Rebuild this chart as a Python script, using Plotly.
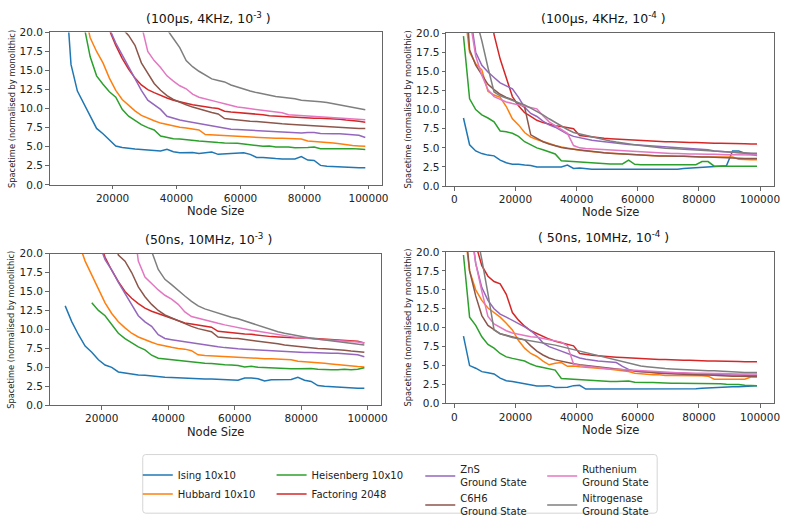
import plotly.graph_objects as go

N = None
# node sizes: 3000, 5000, ..., 99000
NODE_SIZES = list(range(3000, 100000, 2000))

SERIES = ["Ising 10x10", "Hubbard 10x10", "Heisenberg 10x10", "Factoring 2048",
          "ZnS<br>Ground State", "C6H6<br>Ground State",
          "Ruthenium<br>Ground State", "Nitrogenase<br>Ground State"]

TITLES = ["(100μs, 4KHz, 10<sup>-3</sup> )", "(100μs, 4KHz, 10<sup>-4</sup> )",
          "(50ns, 10MHz, 10<sup>-3</sup> )", "( 50ns, 10MHz, 10<sup>-4</sup> )"]

Y_TICKS = [0, 2.5, 5, 7.5, 10, 12.5, 15, 17.5, 20]
X_TICKS_A = [20000, 40000, 60000, 80000, 100000]
X_TICKS_B = [0, 20000, 40000, 60000, 80000, 100000]

# ---------------- (100us, 4KHz, 1e-3) ----------------
TL_ISING = [N, 28, 15.8, 12.3, 10.7, 9.0, 7.4, 6.7, 5.9, 5.1, 4.9, 4.75, 4.7, 4.65, 4.6, 4.5, 4.45, 4.65, 4.35, 4.2, 4.25, 4.25, 4.1, 4.15,
            4.3, 4.0, 4.05, 4.15, 4.2, 4.2, 4.0, 3.6, 3.6, 3.5, 3.45, 3.4, 3.4, 3.4, 3.7, 3.25, 3.2, 2.55, 2.45, 2.4, 2.4, 2.35, 2.25, 2.25, 2.25]
TL_HUBBARD = [N, N, N, N, 23, 19.3, 17.5, 16.0, 14.0, 12.4, 11.2, 10.4, 9.7, 9.1, 8.7, 8.4, 8.1, 7.9, 7.7, 7.55, 7.45, 7.3, 7.2, 6.6,
              6.55, 6.5, 6.45, 6.4, 6.35, 6.3, 6.25, 6.2, 6.15, 6.1, 6.1, 6.1, 6.1, 6.05, 6.0, 5.75, 5.7, 5.65, 5.6, 5.5, 5.4, 5.25, 5.15, 5.1, 5.05]
TL_HEISENBERG = [N, N, N, 26, 21, 16.8, 14.3, 13.2, 12.2, 11.5, 9.9, 9.0, 8.4, 7.9, 7.5, 7.2, 6.4, 6.2, 6.05, 6.0, 5.9, 5.8, 5.75, 5.7,
                 5.6, 5.55, 5.5, 5.5, 5.45, 5.35, 5.2, 5.15, 5.05, 5.1, 4.95, 4.95, 4.95, 4.85, 4.85, 4.9, 4.95, 4.75, 4.75, 4.75, 4.8, 4.8, 4.75, 4.7, 4.65]
TL_FACTORING = [N, N, N, N, N, N, N, 24, 20.3, 18.3, 16.6, 15.2, 14.0, 13.1, 12.5, 12.1, 11.7, 11.4, 11.1, 10.85, 10.7, 10.5, 10.35, 10.2,
                10.1, 10.0, 9.65, 9.55, 9.5, 9.45, 9.4, 9.3, 9.2, 9.05, 9.0, 8.95, 8.9, 8.85, 8.8, 8.8, 8.75, 8.75, 8.7, 8.7, 8.6, 8.5, 8.45, 8.35, 8.2]
TL_ZNS = [N, N, N, N, N, N, N, 24, 20.5, 18.6, 17.0, 15.4, 14.0, 12.4, 11.1, 10.5, 9.9, 9.0, 8.7, 8.5, 8.35, 8.2, 8.05, 7.9,
          7.75, 7.6, 7.4, 7.3, 7.25, 7.2, 7.1, 7.05, 7.0, 6.95, 6.95, 6.9, 6.85, 6.8, 6.8, 6.85, 6.85, 6.75, 6.7, 6.7, 6.7, 6.65, 6.6, 6.5, 6.2]
TL_C6H6 = [N, N, N, N, N, N, N, N, N, 24, 20.5, 19.6, 18.3, 16.0, 14.6, 13.3, 12.4, 11.7, 11.2, 10.8, 10.5, 10.2, 9.95, 9.7,
           9.5, 9.3, 8.7, 8.6, 8.5, 8.45, 8.35, 8.3, 8.2, 8.15, 8.1, 8.0, 7.95, 7.9, 7.85, 7.75, 7.7, 7.65, 7.6, 7.55, 7.5, 7.5, 7.45, 7.4, 7.4]
TL_RUTHENIUM = [N, N, N, N, N, N, N, N, N, N, N, N, 40, 21, 17.5, 16.3, 15.4, 14.3, 13.6, 13.0, 12.6, 11.9, 11.5, 11.25,
                11.0, 10.85, 10.65, 10.4, 10.2, 10.1, 10.0, 9.9, 9.8, 9.65, 9.55, 9.45, 9.2, 9.15, 9.1, 9.05, 9.0, 8.95, 8.9, 8.8, 8.75, 8.7, 8.65, 8.6, 8.55]
TL_NITROGENASE = [N, N, N, N, N, N, N, N, N, N, N, N, N, N, N, N, 30, 20.4, 19.2, 18.0, 16.3, 15.5, 14.9, 14.4,
                  13.9, 13.7, 13.5, 13.1, 12.8, 12.55, 12.3, 12.1, 11.9, 11.75, 11.6, 11.5, 11.4, 11.3, 11.1, 11.05, 11.0, 10.9, 10.8, 10.65, 10.5, 10.35, 10.2, 10.0, 9.85]

# ---------------- (100us, 4KHz, 1e-4) ----------------
TR_ISING = [8.9, 5.4, 4.6, 4.25, 4.05, 3.95, 3.4, 3.05, 2.85, 2.85, 2.75, 2.7, 2.5, 2.5, 2.5, 2.5, 2.5, 2.75, 2.3, 2.35, 2.25, 2.2, 2.2, 2.2,
            2.2, 2.2, 2.2, 2.2, 2.2, 2.2, 2.2, 2.2, 2.2, 2.2, 2.2, 2.2, 2.3, 2.35, 2.4, 2.45, 2.5, 2.55, 2.6, 2.65, 4.6, 4.6, 4.3, 4.1, 4.0]
TR_HUBBARD = [24, 17.5, 16.0, 15.2, 12.4, 11.9, 11.6, 10.4, 8.8, 8.0, 7.0, 6.4, 6.1, 5.8, 5.5, 5.3, 5.1, 4.95, 4.8, 4.7, 4.6, 4.5, 4.4, 4.35,
              4.3, 4.25, 4.2, 4.15, 4.1, 4.05, 4.0, 4.0, 3.95, 3.95, 3.9, 3.9, 3.9, 3.85, 3.85, 3.8, 3.8, 3.8, 3.8, 3.8, 3.8, 3.5, 3.45, 3.45, 3.45]
TR_HEISENBERG = [19.6, 11.4, 10.0, 9.3, 8.9, 8.4, 7.2, 7.1, 6.9, 6.5, 5.8, 5.4, 5.0, 4.75, 4.5, 4.2, 3.3, 3.25, 3.2, 3.1, 3.05, 3.0, 3.0, 2.95,
                 2.9, 2.9, 2.9, 3.4, 2.85, 2.8, 2.8, 2.8, 2.8, 2.8, 2.8, 2.8, 2.8, 2.8, 2.8, 3.2, 3.2, 2.6, 2.6, 2.6, 2.6, 2.6, 2.6, 2.6, 2.6]
TR_FACTORING = [N, N, N, N, 26, 19.8, 16.6, 14.0, 11.7, 10.5, 9.6, 9.1, 8.6, 8.3, 8.1, 7.9, 7.8, 7.65, 7.5, 6.6, 6.5, 6.4, 6.3, 6.25,
                6.2, 6.15, 6.1, 6.05, 6.0, 5.95, 5.9, 5.9, 5.85, 5.8, 5.8, 5.75, 5.75, 5.7, 5.7, 5.65, 5.65, 5.6, 5.6, 5.6, 5.55, 5.55, 5.55, 5.5, 5.5]
TR_ZNS = [N, 23, 17.5, 15.8, 14.9, 14.2, 13.5, 13.1, 12.7, 11.6, 10.3, 9.5, 9.1, 8.5, 8.0, 7.7, 7.2, 6.8, 6.5, 6.3, 6.15, 6.0, 5.9, 5.8,
          5.7, 5.6, 5.5, 5.45, 5.4, 5.35, 5.3, 5.25, 5.2, 5.1, 5.05, 5.0, 4.95, 4.9, 4.85, 4.8, 4.75, 4.6, 4.55, 4.5, 4.45, 4.4, 4.35, 4.3, 4.2]
TR_C6H6 = [30, 17.8, 15.8, 14.6, 13.3, 12.6, 12.0, 11.6, 11.3, 10.8, 10.3, 6.7, 6.2, 5.8, 5.5, 5.25, 5.05, 4.9, 4.8, 4.7, 4.6, 4.5, 4.4, 4.35,
           4.3, 4.25, 4.2, 4.15, 4.1, 4.05, 4.0, 4.0, 3.95, 3.95, 3.9, 3.9, 3.9, 3.85, 3.85, 3.8, 3.8, 3.75, 3.7, 3.7, 3.65, 3.65, 3.6, 3.6, 3.6]
TR_RUTHENIUM = [N, 22, 17.0, 14.5, 12.6, 11.7, 11.3, 11.0, 10.8, 10.6, 10.4, 10.25, 10.1, 9.2, 8.4, 7.9, 7.4, 6.9, 5.3, 5.0, 4.9, 4.85, 4.8, 4.75,
                4.7, 4.65, 4.6, 4.55, 4.5, 4.45, 4.4, 4.35, 4.3, 4.3, 4.25, 4.25, 4.2, 4.2, 4.2, 4.15, 4.15, 4.15, 4.1, 4.1, 4.1, 4.1, 4.1, 4.05, 4.05]
TR_NITROGENASE = [N, N, 22, 19.0, 15.5, 12.3, 11.8, 11.5, 11.2, 11.0, 10.6, 10.2, 9.8, 9.3, 8.8, 8.3, 7.8, 7.4, 7.0, 6.8, 6.6, 6.4, 6.2, 6.05,
                  5.9, 5.75, 5.6, 5.5, 5.4, 5.3, 5.2, 5.1, 5.0, 4.95, 4.9, 4.85, 4.8, 4.7, 4.65, 4.6, 4.55, 4.5, 4.45, 4.45, 4.4, 4.35, 4.35, 4.3, 4.3]

# ---------------- (50ns, 10MHz, 1e-3) ----------------
BL_ISING = [N, N, N, 13.1, 11.0, 9.3, 7.8, 7.0, 6.0, 5.3, 5.0, 4.4, 4.25, 4.1, 4.0, 3.95, 3.85, 3.8, 3.7, 3.65, 3.6, 3.6, 3.55, 3.5,
            3.45, 3.45, 3.4, 3.4, 3.35, 3.3, 3.6, 3.6, 3.5, 3.2, 3.35, 3.35, 3.35, 3.4, 3.7, 3.3, 3.15, 2.6, 2.5, 2.45, 2.4, 2.35, 2.25, 2.25, 2.25]
BL_HUBBARD = [N, N, N, N, 26, 21.5, 19.0, 17.2, 15.4, 13.5, 12.1, 11.0, 10.2, 9.5, 9.0, 8.6, 8.3, 8.0, 7.8, 7.65, 7.5, 7.4, 7.2, 6.65,
              6.55, 6.5, 6.45, 6.4, 6.35, 6.3, 6.25, 6.2, 6.2, 6.15, 6.15, 6.1, 6.05, 6.0, 5.8, 5.75, 5.7, 5.65, 5.55, 5.45, 5.35, 5.3, 5.2, 5.1, 5.05]
BL_HEISENBERG = [N, N, N, N, N, N, N, 13.5, 12.5, 11.8, 10.6, 9.5, 8.8, 8.2, 7.7, 7.3, 6.6, 6.2, 6.1, 6.0, 5.9, 5.8, 5.7, 5.6,
                 5.55, 5.5, 5.4, 5.35, 5.3, 5.25, 5.05, 5.15, 5.0, 4.95, 4.9, 4.85, 4.85, 4.8, 4.8, 4.85, 4.85, 4.75, 4.7, 4.7, 4.7, 4.75, 4.7, 4.75, 4.95]
BL_FACTORING = [N, N, N, N, N, N, N, N, 22, 19.5, 17.8, 16.3, 15.0, 14.1, 13.4, 12.8, 12.4, 12.1, 11.8, 11.4, 11.1, 10.85, 10.7, 10.55,
                10.45, 10.3, 9.75, 9.65, 9.55, 9.5, 9.4, 9.35, 9.25, 9.1, 9.05, 9.0, 8.95, 8.9, 8.9, 8.85, 8.85, 8.8, 8.8, 8.75, 8.7, 8.65, 8.6, 8.45, 8.2]
BL_ZNS = [N, N, N, N, N, N, N, 25, 21.5, 19.2, 17.8, 16.2, 14.7, 13.3, 11.8, 11.0, 10.4, 9.3, 8.8, 8.65, 8.5, 8.35, 8.2, 8.1,
          8.0, 7.85, 7.7, 7.6, 7.5, 7.45, 7.4, 7.35, 7.3, 7.2, 7.15, 7.1, 7.05, 7.0, 7.0, 6.95, 6.95, 6.9, 6.9, 6.85, 6.85, 6.8, 6.75, 6.65, 6.4]
BL_C6H6 = [N, N, N, N, N, N, N, N, N, N, 23, 19.8, 19.0, 17.5, 15.6, 14.3, 13.3, 12.5, 11.9, 11.5, 11.1, 10.8, 10.4, 10.1,
           9.9, 9.7, 9.0, 8.9, 8.85, 8.8, 8.7, 8.6, 8.45, 8.3, 8.2, 8.1, 7.95, 7.85, 7.75, 7.65, 7.6, 7.5, 7.45, 7.4, 7.35, 7.25, 7.15, 7.05, 7.0]
BL_RUTHENIUM = [N, N, N, N, N, N, N, N, N, N, N, N, N, 26, 19.0, 16.9, 16.0, 15.2, 14.5, 14.0, 13.3, 12.3, 11.7, 11.45,
                11.2, 11.0, 10.8, 10.6, 10.4, 10.2, 10.05, 9.9, 9.75, 9.6, 9.45, 9.3, 9.15, 9.05, 8.95, 8.85, 8.75, 8.7, 8.65, 8.6, 8.55, 8.5, 8.45, 8.35, 8.2]
BL_NITROGENASE = [N, N, N, N, N, N, N, N, N, N, N, N, N, N, N, 30, 20.3, 17.9, 16.6, 15.9, 15.1, 14.4, 13.7, 13.1,
                  12.7, 12.4, 12.1, 11.9, 11.6, 11.4, 11.1, 10.9, 10.6, 10.3, 10.0, 9.7, 9.5, 9.3, 9.15, 9.0, 8.85, 8.75, 8.6, 8.5, 8.4, 8.3, 8.15, 8.05, 7.95]

# ---------------- (50ns, 10MHz, 1e-4) ----------------
BR_ISING = [8.9, 5.0, 4.65, 4.2, 4.05, 3.9, 3.35, 3.0, 2.9, 2.75, 2.6, 2.55, 2.3, 2.3, 2.35, 2.1, 2.1, 2.15, 2.35, 2.4, 1.9, 1.9, 1.9, 1.9,
            1.9, 1.9, 1.9, 1.9, 1.9, 1.9, 1.9, 1.9, 1.9, 1.9, 1.9, 1.9, 1.9, 1.9, 1.95, 2.0, 2.05, 2.1, 2.1, 2.15, 2.2, 2.2, 2.25, 2.3, 2.35]
BR_HUBBARD = [24, 17.5, 15.0, 13.6, 12.6, 12.0, 11.4, 10.6, 9.7, 8.3, 7.3, 6.6, 6.2, 5.6, 5.1, 5.3, 5.4, 4.9, 4.95, 4.85, 4.8, 4.75, 4.7, 4.6,
              4.5, 4.4, 4.3, 4.2, 4.0, 3.9, 3.85, 3.8, 3.8, 3.7, 3.7, 3.7, 3.7, 3.7, 3.65, 3.65, 3.6, 3.2, 3.2, 3.2, 3.2, 3.2, 3.2, 3.5, 3.5]
BR_HEISENBERG = [19.6, 11.4, 10.3, 8.8, 7.8, 7.3, 6.6, 6.15, 5.95, 5.8, 5.6, 5.2, 4.9, 4.75, 4.55, 4.4, 3.3, 3.25, 3.2, 3.1, 3.05, 3.0, 3.0, 2.95,
                 2.9, 2.9, 2.9, 2.95, 2.8, 2.75, 2.75, 2.75, 2.7, 2.7, 2.65, 2.65, 2.65, 2.65, 2.6, 2.6, 2.6, 2.6, 2.6, 2.55, 2.55, 2.5, 2.4, 2.35, 2.35]
BR_FACTORING = [N, 30, 21, 18.2, 16.8, 16.1, 15.8, 14.4, 12.0, 11.0, 10.2, 9.6, 9.2, 8.8, 8.5, 8.2, 8.0, 7.8, 7.6, 6.6, 6.45, 6.35, 6.3, 6.2,
                6.15, 6.1, 6.05, 6.0, 5.95, 5.9, 5.9, 5.85, 5.8, 5.8, 5.75, 5.75, 5.7, 5.7, 5.65, 5.65, 5.6, 5.6, 5.6, 5.55, 5.55, 5.55, 5.5, 5.5, 5.5]
BR_ZNS = [N, 25, 18.5, 15.3, 13.6, 12.5, 11.8, 11.4, 11.0, 10.5, 10.1, 9.6, 8.9, 8.0, 7.5, 7.2, 6.9, 6.5, 6.2, 6.0, 5.85, 5.7, 5.6, 5.55,
          5.5, 5.4, 4.9, 4.5, 4.3, 4.2, 4.15, 4.1, 4.05, 4.0, 4.0, 3.95, 3.95, 3.9, 3.9, 3.85, 3.85, 3.8, 3.8, 3.75, 3.75, 3.75, 3.7, 3.7, 3.7]
BR_C6H6 = [26, 17.5, 14.2, 11.6, 10.3, 9.7, 9.2, 9.0, 8.8, 8.6, 8.4, 7.6, 6.9, 6.4, 6.0, 5.75, 5.55, 5.4, 5.25, 5.1, 5.0, 4.9, 4.8, 4.75,
           4.7, 4.6, 4.5, 4.4, 4.3, 4.2, 4.15, 4.05, 4.0, 3.95, 3.9, 3.85, 3.85, 3.8, 3.8, 3.75, 3.75, 3.7, 3.65, 3.6, 3.6, 3.6, 3.6, 3.55, 3.55]
BR_RUTHENIUM = [N, 24, 18.5, 14.8, 11.5, 10.5, 10.0, 9.6, 9.3, 9.1, 8.95, 8.8, 8.75, 8.6, 8.5, 8.35, 8.1, 7.6, 5.2, 5.0, 4.9, 4.8, 4.7, 4.6,
                4.55, 4.5, 4.45, 4.4, 4.35, 4.3, 4.25, 4.2, 4.15, 4.1, 4.1, 4.05, 4.05, 4.0, 4.0, 4.0, 3.95, 3.95, 3.95, 3.9, 3.9, 3.9, 3.9, 3.9, 3.9]
BR_NITROGENASE = [N, N, 23, 19.0, 14.5, 9.7, 9.2, 8.9, 8.7, 8.55, 8.4, 8.3, 8.2, 8.0, 7.85, 7.7, 7.5, 7.3, 7.1, 6.9, 6.7, 6.45, 6.25, 6.05,
                  5.85, 5.65, 5.45, 5.25, 5.1, 4.95, 4.85, 4.75, 4.7, 4.6, 4.55, 4.5, 4.45, 4.4, 4.4, 4.35, 4.3, 4.3, 4.25, 4.2, 4.2, 4.15, 4.1, 4.1, 4.1]

PANELS = [
    [TL_ISING, TL_HUBBARD, TL_HEISENBERG, TL_FACTORING, TL_ZNS, TL_C6H6, TL_RUTHENIUM, TL_NITROGENASE],
    [TR_ISING, TR_HUBBARD, TR_HEISENBERG, TR_FACTORING, TR_ZNS, TR_C6H6, TR_RUTHENIUM, TR_NITROGENASE],
    [BL_ISING, BL_HUBBARD, BL_HEISENBERG, BL_FACTORING, BL_ZNS, BL_C6H6, BL_RUTHENIUM, BL_NITROGENASE],
    [BR_ISING, BR_HUBBARD, BR_HEISENBERG, BR_FACTORING, BR_ZNS, BR_C6H6, BR_RUTHENIUM, BR_NITROGENASE],
]
for p in PANELS:
    for s in p:
        assert len(s) == len(NODE_SIZES), len(s)

# ---------------- styling ----------------
COLORS = ["#1f77b4", "#ff7f0e", "#2ca02c", "#d62728", "#9467bd", "#8c564b", "#e377c2", "#7f7f7f"]
LEGEND_OF = ["legend", "legend", "legend2", "legend2", "legend3", "legend3", "legend4", "legend4"]
FONT = "DejaVu Sans"
W, H = 797, 527


def px(x):
    return x / W


def py(y):
    return 1 - y / H


# panel boxes in pixels: (left, right, top, bottom)
BOXES = [(50, 385, 27, 183), (450, 781, 27.7, 184.3), (50, 384, 253.3, 408.6), (450, 781, 251.7, 406.7)]
X_RANGES = [[300, 104100], [-2700, 104600], [4300, 103900], [-2700, 104600]]
X_TICKS = [X_TICKS_A, X_TICKS_B, X_TICKS_A, X_TICKS_B]

fig = go.Figure()
for k, panel in enumerate(PANELS):
    xa = "x" if k == 0 else f"x{k + 1}"
    ya = "y" if k == 0 else f"y{k + 1}"
    for i, vals in enumerate(panel):
        fig.add_trace(go.Scatter(
            x=NODE_SIZES, y=vals, mode="lines", name=SERIES[i],
            line=dict(color=COLORS[i], width=1.5),
            xaxis=xa, yaxis=ya, legendgroup=SERIES[i],
            legend=LEGEND_OF[i], showlegend=(k == 0),
        ))

axis_common = dict(showline=True, linecolor="#666666", linewidth=1, mirror=True,
                   ticks="outside", ticklen=3.5, tickwidth=1, tickcolor="#666666",
                   showgrid=False, zeroline=False,
                   tickfont=dict(family=FONT, size=10.5, color="#222"))

layout = dict(width=W, height=H, margin=dict(l=0, r=0, t=0, b=0),
              paper_bgcolor="white", plot_bgcolor="white",
              font=dict(family=FONT, color="#222"))
annotations = []
for k, (l, r, t, b) in enumerate(BOXES):
    sx = "" if k == 0 else str(k + 1)
    layout[f"xaxis{sx}"] = dict(axis_common, domain=[px(l), px(r)], range=X_RANGES[k],
                                tickvals=X_TICKS[k], ticktext=[str(v) for v in X_TICKS[k]],
                                anchor=f"y{sx}")
    layout[f"yaxis{sx}"] = dict(axis_common, domain=[py(b), py(t)], range=[0, 20],
                                tickvals=Y_TICKS, ticktext=[f"{v:.1f}" for v in Y_TICKS],
                                anchor=f"x{sx}")
    cx = (l + r) / 2
    annotations.append(dict(text=TITLES[k], x=px(cx - 7), y=py(t - 15), xref="paper", yref="paper",
                            showarrow=False, xanchor="center", yanchor="middle",
                            font=dict(family=FONT, size=12.5, color="#111")))
    annotations.append(dict(text="Node Size", x=px(cx), y=py(b + 27), xref="paper", yref="paper",
                            showarrow=False, xanchor="center", yanchor="middle",
                            font=dict(family=FONT, size=11.5, color="#222")))
    annotations.append(dict(text="Spacetime (normalised by monolithic)", x=px(l - 38.5), y=py((t + b) / 2),
                            xref="paper", yref="paper", showarrow=False, textangle=-90,
                            xanchor="center", yanchor="middle",
                            font=dict(family=FONT, size=8.3, color="#222")))
layout["annotations"] = annotations

leg_common = dict(xanchor="left", yanchor="top", orientation="v", bgcolor="rgba(0,0,0,0)",
                  font=dict(family=FONT, size=10, color="#222"), tracegroupgap=0,
                  xref="paper", yref="paper")
for name, xl, yt in zip(["legend", "legend2", "legend3", "legend4"], [139, 274, 424, 547], [465, 465, 461, 461]):
    layout[name] = dict(leg_common, x=px(xl), y=py(yt))

# rounded legend frame
x0, x1, y0, y1 = px(144), px(663), py(519), py(459)
rx, ry = 3 / W, 3 / H
path = (f"M{x0 + rx},{y1} L{x1 - rx},{y1} Q{x1},{y1} {x1},{y1 - ry} L{x1},{y0 + ry} "
        f"Q{x1},{y0} {x1 - rx},{y0} L{x0 + rx},{y0} Q{x0},{y0} {x0},{y0 + ry} "
        f"L{x0},{y1 - ry} Q{x0},{y1} {x0 + rx},{y1} Z")
layout["shapes"] = [dict(type="path", path=path, xref="paper", yref="paper",
                         line=dict(color="#d5d5d5", width=1), fillcolor="rgba(0,0,0,0)")]

fig.update_layout(**layout)
fig.write_html("out.html", config={"displayModeBar": False},
               post_script="document.body.style.margin='0';document.body.style.overflow='hidden';")
